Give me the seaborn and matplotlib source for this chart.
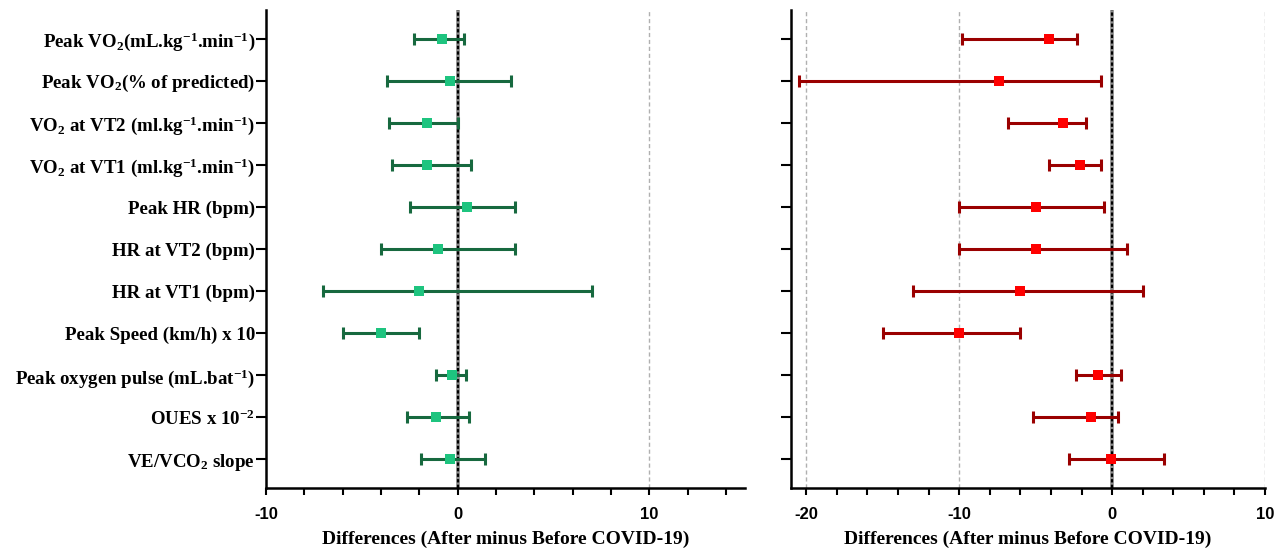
import numpy as np
import matplotlib
matplotlib.use("Agg")
import matplotlib.pyplot as plt
import seaborn as sns

# ------------------------------
# Data
# ------------------------------
labels = [
    r"Peak VO$_2$(mL.kg$^{-1}$.min$^{-1}$)",
    r"Peak VO$_2$(% of predicted)",
    r"VO$_2$ at VT2 (ml.kg$^{-1}$.min$^{-1}$)",
    r"VO$_2$ at VT1 (ml.kg$^{-1}$.min$^{-1}$)",
    "Peak HR (bpm)",
    "HR at VT2 (bpm)",
    "HR at VT1 (bpm)",
    "Peak Speed (km/h) x 10",
    r"Peak oxygen pulse (mL.bat$^{-1}$)",
    r"OUES x 10$^{-2}$",
    r"VE/VCO$_2$ slope",
]

# left panel (green)
green_mean = [-0.8, -0.4, -1.6, -1.6, 0.5, -1.0, -2.0, -4.0, -0.3, -1.15, -0.4]
green_low = [-2.25, -3.7, -3.6, -3.4, -2.5, -4.0, -7.0, -6.0, -1.15, -2.65, -1.9]
green_high = [0.35, 2.8, 0.0, 0.7, 3.0, 3.0, 7.0, -2.0, 0.45, 0.6, 1.45]

# right panel (red)
red_mean = [-4.1, -7.4, -3.2, -2.1, -5.0, -5.0, -6.0, -10.0, -0.9, -1.4, -0.05]
red_low = [-9.8, -20.5, -6.8, -4.1, -10.0, -10.0, -13.0, -15.0, -2.35, -5.15, -2.8]
red_high = [-2.3, -0.7, -1.7, -0.7, -0.5, 1.0, 2.0, -6.0, 0.55, 0.4, 3.4]

sns.set_theme(style="ticks")
plt.rcParams["font.family"] = ["Liberation Serif", "DejaVu Serif"]
plt.rcParams["font.weight"] = "bold"
plt.rcParams["text.color"] = "black"
plt.rcParams["axes.labelcolor"] = "black"
plt.rcParams["xtick.color"] = "black"
plt.rcParams["ytick.color"] = "black"
plt.rcParams["mathtext.fontset"] = "custom"
plt.rcParams["mathtext.rm"] = "Liberation Serif:bold"
plt.rcParams["mathtext.it"] = "Liberation Serif:bold"
plt.rcParams["mathtext.bf"] = "Liberation Serif:bold"
plt.rcParams["mathtext.default"] = "rm"

fig = plt.figure(figsize=(12.87, 5.52), dpi=100)
ax1 = fig.add_axes([266 / 1287, 1 - 488 / 552, (745 - 266) / 1287, (488 - 10) / 552])
ax2 = fig.add_axes([791 / 1287, 1 - 488 / 552, (1265 - 791) / 1287, (488 - 10) / 552])

ypos = np.arange(len(labels))


def draw_panel(ax, mean, low, high, line_col, mark_col, xlim, grid_at, major):
    mean = np.array(mean)
    err = [mean - np.array(low), np.array(high) - mean]
    for g in grid_at:
        ax.axvline(g, color="#b0b0b0", lw=1.0, ls=(0, (3, 2)), zorder=0)
    # zero line: grey under black dots
    ax.axvline(0, color="#8a8a8a", lw=2.6, zorder=1)
    ax.axvline(0, color="black", lw=1.6, ls=(0, (1.5, 1)), zorder=1)
    ax.errorbar(mean, ypos, xerr=err, fmt="none", ecolor=line_col,
                elinewidth=2.2, capsize=4.5, capthick=2.2, zorder=2)
    sns.scatterplot(x=mean, y=ypos, marker="s", s=56, color=mark_col,
                    edgecolor=mark_col, linewidth=0, zorder=3, ax=ax)
    ax.set_xlim(*xlim)
    ax.set_ylim(10.68, -0.68)
    ax.set_xticks(np.arange(xlim[0] + (xlim[0] % 2), xlim[1] + 0.1, 2), minor=True)
    ax.set_xticks(major)
    ax.set_xticklabels([str(m) for m in major], family="Liberation Sans",
                       fontsize=12, fontweight="bold")
    ax.tick_params(axis="x", which="both", length=5, width=1.5, direction="out",
                   pad=9, color="black")
    ax.tick_params(axis="y", length=7, width=1.5, direction="out", pad=1,
                   color="black")
    ax.set_xlabel("Differences (After minus Before COVID-19)", fontsize=14,
                  fontweight="bold", labelpad=6)
    for sp in ["top", "right"]:
        ax.spines[sp].set_visible(False)
    for sp in ["left", "bottom"]:
        ax.spines[sp].set_linewidth(1.8)
        ax.spines[sp].set_color("black")
    ax.set_ylabel("")


draw_panel(ax1, green_mean, green_low, green_high, "#17693f", "#1ec47f",
           (-10, 15), [10], [-10, 0, 10])
ax1.set_yticks(ypos)
ax1.set_yticklabels(labels, fontsize=13.6, fontweight="bold")

draw_panel(ax2, red_mean, red_low, red_high, "#9a0000", "#ff0000",
           (-21, 10), [-20, -10, 10], [-20, -10, 0, 10])
ax2.set_yticks(ypos)
ax2.set_yticklabels([])

fig.savefig("out.png", dpi=100)
